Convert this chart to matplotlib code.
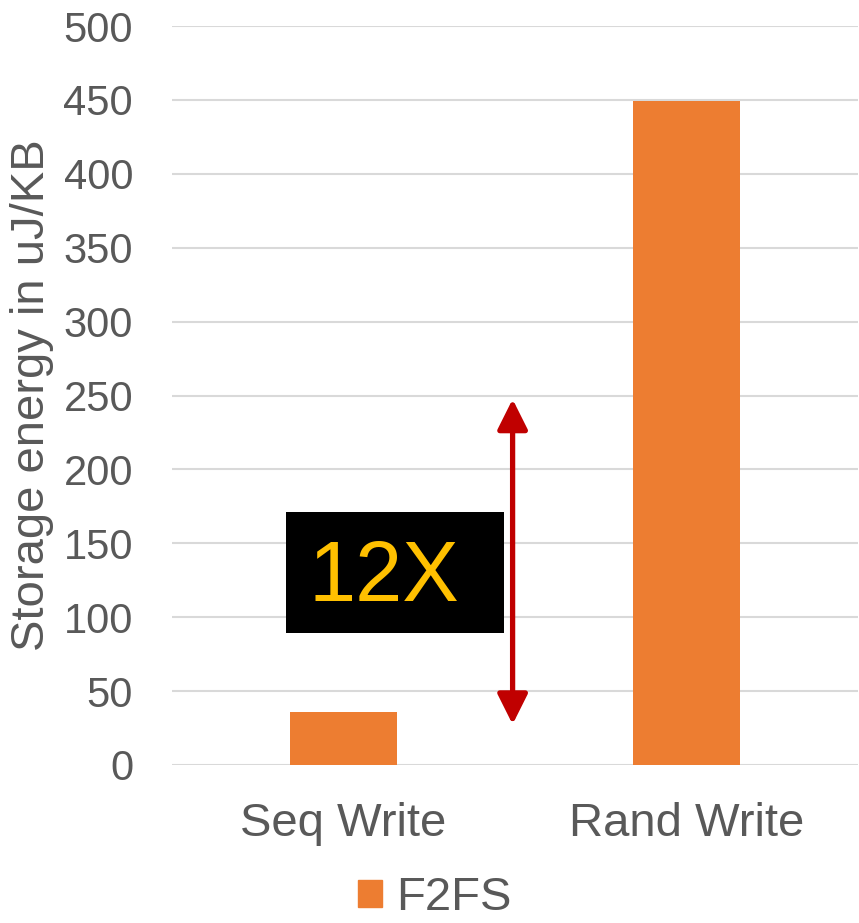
import matplotlib
matplotlib.use('Agg')
import matplotlib.pyplot as plt
from matplotlib.patches import Rectangle, Patch

plt.rcParams['font.family'] = ['Liberation Sans', 'DejaVu Sans']

categories = ['Seq Write', 'Rand Write']
f2fs = [36, 449]
yticks = [0, 50, 100, 150, 200, 250, 300, 350, 400, 450, 500]

grey = '#595959'
orange = '#ED7D31'

fig = plt.figure(figsize=(8.59, 9.23), dpi=100)
ax = fig.add_axes([172 / 859, (923 - 765) / 923, 686 / 859, 739 / 923])

x = range(len(categories))
ax.bar(x, f2fs, width=0.314, color=orange, zorder=3)

ax.set_xlim(-0.5, 1.5)
ax.set_ylim(0, 500)
ax.set_yticks(yticks)
ax.set_xticks(list(x))
ax.set_xticklabels(categories)
ax.grid(axis='y', color='#D9D9D9', linewidth=1.5, zorder=0)
for s in ax.spines.values():
    s.set_visible(False)
ax.tick_params(axis='both', length=0, colors=grey)
ax.tick_params(axis='y', labelsize=30, pad=28)
ax.tick_params(axis='x', labelsize=34, pad=27)

ax.set_ylabel('Storage energy in uJ/KB', fontsize=34, color=grey)
ax.yaxis.set_label_coords(-0.172, 0.5)

# double arrow showing the gap between the two bars
ax.annotate('', xy=(0.493, 27.5), xytext=(0.493, 247.5),
            arrowprops=dict(arrowstyle='<|-|>,head_length=0.4,head_width=0.2',
                            mutation_scale=46, lw=3.8, color='#C00000',
                            shrinkA=0, shrinkB=0), zorder=5)

# black label box with the ratio
ax.add_patch(Rectangle((-0.168, 89), 0.635, 82.5, facecolor='black',
                       edgecolor='none', zorder=4))
ax.text(0.118, 126, '12X', fontsize=61, color='#FFC000',
        ha='center', va='center', zorder=5)

fig.legend(handles=[Patch(color=orange, label='F2FS')], loc='center',
           bbox_to_anchor=(0.506, 0.027), frameon=False, fontsize=34,
           handlelength=0.5, handleheight=0.5, handletextpad=0.3,
           labelcolor=grey)

fig.savefig('out.png', dpi=100)
